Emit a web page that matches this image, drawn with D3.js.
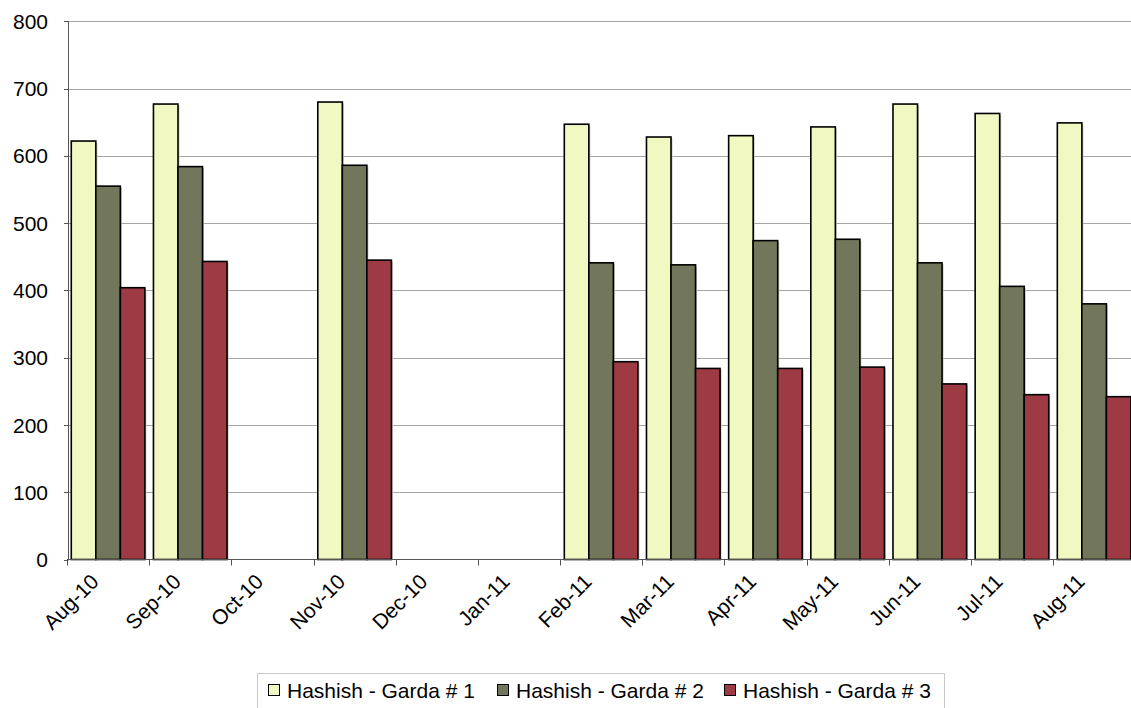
<!DOCTYPE html>
<html>
<head>
<meta charset="utf-8">
<script src="https://cdn.jsdelivr.net/npm/d3@7"></script>
<style>
  html, body { margin: 0; padding: 0; background: #fff; overflow: hidden; }
  svg { display: block; font-family: "Liberation Sans", Arial, sans-serif; }
</style>
</head>
<body>
<svg id="chart" width="1131" height="708"></svg>
<script>
const categories = ["Aug-10","Sep-10","Oct-10","Nov-10","Dec-10","Jan-11","Feb-11","Mar-11","Apr-11","May-11","Jun-11","Jul-11","Aug-11"];
const seriesNames = ["Hashish - Garda # 1","Hashish - Garda # 2","Hashish - Garda # 3"];
const garda1 = [622, 677, null, 680, null, null, 647, 628, 630, 643, 677, 663, 649];
const garda2 = [555, 584, null, 586, null, null, 441, 438, 474, 476, 441, 406, 380];
const garda3 = [404, 443, null, 445, null, null, 294, 284, 284, 286, 261, 245, 242];
const yTicks = [0, 100, 200, 300, 400, 500, 600, 700, 800];
const colors = ["#F1F8C2", "#72765A", "#9E3A43"];

const seriesValues = [garda1, garda2, garda3];
const svg = d3.select("#chart");

const left = 67, step = 82.17;
const x = d3.scaleBand().domain(categories).range([left, left + step * categories.length]).paddingInner(0).paddingOuter(0);
const groupW = 73.6;
const groupOff = (x.bandwidth() - groupW) / 2;
const xInner = d3.scaleBand().domain(seriesNames).range([groupOff, groupOff + groupW]).paddingInner(0).paddingOuter(0);
const y = d3.scaleLinear().domain([0, 800]).range([559.5, 21.3]);

const FS = 21;

// gridlines
svg.append("g").selectAll("line").data(yTicks.filter(d => d > 0)).join("line")
  .attr("x1", left).attr("x2", 1131)
  .attr("y1", d => Math.round(y(d)) + 0.5).attr("y2", d => Math.round(y(d)) + 0.5)
  .attr("stroke", "#a6a6a6").attr("stroke-width", 1);

// bars
const rows = [];
categories.forEach((c, i) => seriesNames.forEach((s, j) => {
  const v = seriesValues[j][i];
  if (v != null) rows.push({c, s, v, j});
}));
svg.append("g").selectAll("rect").data(rows).join("rect")
  .attr("x", d => x(d.c) + xInner(d.s) + 1.5)
  .attr("y", d => y(d.v) + 1.5)
  .attr("width", xInner.bandwidth())
  .attr("height", d => y(0) - y(d.v) - 1.5)
  .attr("fill", "#c4c4c4");
svg.append("g").selectAll("rect").data(rows).join("rect")
  .attr("x", d => x(d.c) + xInner(d.s))
  .attr("y", d => y(d.v))
  .attr("width", xInner.bandwidth())
  .attr("height", d => y(0) - y(d.v))
  .attr("fill", d => colors[d.j])
  .attr("stroke", "#000").attr("stroke-width", 1.6);

// y axis
svg.append("line").attr("x1", 68.5).attr("x2", 68.5).attr("y1", y(800)).attr("y2", y(0))
  .attr("stroke", "#555").attr("stroke-width", 1);
svg.append("g").selectAll("line").data(yTicks).join("line")
  .attr("x1", 64).attr("x2", 68.5)
  .attr("y1", d => Math.round(y(d)) + 0.5).attr("y2", d => Math.round(y(d)) + 0.5)
  .attr("stroke", "#555");
svg.append("g").selectAll("text").data(yTicks).join("text")
  .attr("x", 48).attr("y", d => y(d)).attr("dy", "0.36em")
  .attr("text-anchor", "end").attr("font-size", FS).attr("fill", "#000")
  .text(d => d);

// x axis
svg.append("line").attr("x1", left).attr("x2", 1131).attr("y1", y(0)).attr("y2", y(0))
  .attr("stroke", "#555").attr("stroke-width", 1.2);
svg.append("g").selectAll("line").data(categories).join("line")
  .attr("x1", d => Math.round(x(d)) + 0.5).attr("x2", d => Math.round(x(d)) + 0.5)
  .attr("y1", y(0)).attr("y2", y(0) + 6)
  .attr("stroke", "#555");
svg.append("g").selectAll("text").data(categories).join("text")
  .attr("transform", d => `translate(${x(d) + x.bandwidth() / 2 - 8},${583}) rotate(-45)`)
  .attr("text-anchor", "end").attr("font-size", FS).attr("fill", "#000")
  .text(d => d);

// legend
const lg = svg.append("g");
lg.append("rect").attr("x", 257.5).attr("y", 673.5).attr("width", 687).attr("height", 40)
  .attr("fill", "#fff").attr("stroke", "#c8c8c8").attr("stroke-width", 1);
const legX = [268, 497, 724];
seriesNames.forEach((s, j) => {
  lg.append("rect").attr("x", legX[j] + 0.5).attr("y", 684.5).attr("width", 11).attr("height", 11)
    .attr("fill", colors[j]).attr("stroke", "#000").attr("stroke-width", 1);
  lg.append("text").attr("x", legX[j] + 19).attr("y", 690).attr("dy", "0.36em")
    .attr("font-size", FS).attr("fill", "#000").text(s);
});
</script>
</body>
</html>
